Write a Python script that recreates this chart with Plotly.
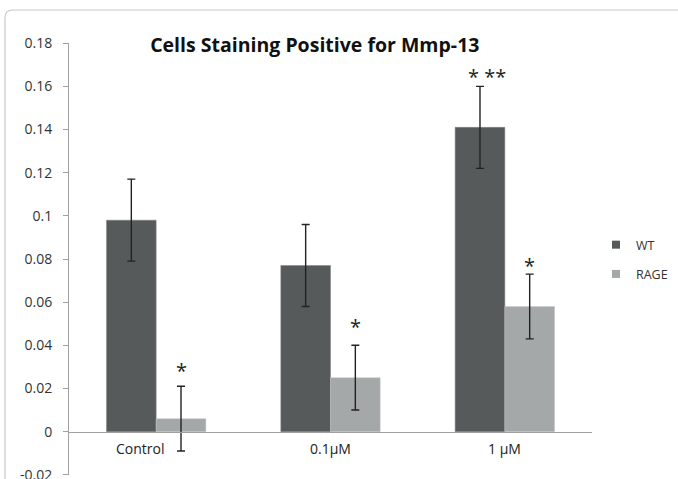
import plotly.graph_objects as go

categories = ["Control", "0.1μM", "1 μM"]
wt_values = [0.098, 0.077, 0.141]
wt_errors = [0.019, 0.019, 0.019]
rage_values = [0.006, 0.025, 0.058]
rage_errors = [0.015, 0.015, 0.015]

sig_labels = ["*", "*", "* **", "*"]
sig_x = ["Control", "0.1μM", "1 μM", "1 μM"]
sig_series = ["RAGE", "RAGE", "WT", "RAGE"]
sig_y = [0.0282, 0.0486, 0.1648, 0.0769]

y_tickvals = [0.18, 0.16, 0.14, 0.12, 0.1, 0.08, 0.06, 0.04, 0.02, 0, -0.02]
y_ticktext = ["0.18", "0.16", "0.14", "0.12", "0.1", "0.08", "0.06", "0.04", "0.02", "0", "-0.02"]

FONT = "Open Sans"
WT_COLOR = "#575a5b"
RAGE_COLOR = "#a5a8a8"

fig = go.Figure()
fig.add_trace(go.Bar(
    name="WT", x=categories, y=wt_values, offsetgroup="WT", showlegend=False,
    marker=dict(color=WT_COLOR, line=dict(color="#808383", width=0.5)),
    error_y=dict(type="data", array=wt_errors, color="#222222", thickness=1.4, width=4),
))
fig.add_trace(go.Bar(
    name="RAGE", x=categories, y=rage_values, offsetgroup="RAGE", showlegend=False,
    marker=dict(color=RAGE_COLOR, line=dict(color="#c4c6c6", width=0.5)),
    error_y=dict(type="data", array=rage_errors, color="#222222", thickness=1.4, width=4),
))
# legend entries (small square keys like the original)
for nm, col, grp in [("WT", WT_COLOR, "a"), ("RAGE", RAGE_COLOR, "b")]:
    fig.add_trace(go.Scatter(
        name=nm, x=[None], y=[None], mode="markers", legendgroup=grp,
        marker=dict(symbol="square", size=8, color=col),
    ))

for lab, xc, ser, yv in zip(sig_labels, sig_x, sig_series, sig_y):
    fig.add_annotation(
        x=xc, y=yv, text=lab, showarrow=False,
        xshift=-18 if ser == "WT" else 25,
        font=dict(family=FONT, size=20, color="#222222"),
    )

# category labels under the zero line
for i, c in enumerate(categories):
    fig.add_annotation(
        x=c, y=0, text=c, showarrow=False, yanchor="top", yshift=-5,
        xshift=-16 if i == 0 else 0,
        font=dict(family=FONT, size=14, color="#222222"),
    )

# rounded outer frame
fig.add_shape(
    type="path", xref="paper", yref="paper",
    path="M -0.1224,-0.05 L -0.1224,1.058 Q -0.1224,1.0764 -0.107,1.0764 L 1.25,1.0764",
    line=dict(color="#c8c8c8", width=1.2), layer="below",
)

fig.update_layout(
    width=678, height=479,
    margin=dict(l=69, r=86, t=43, b=4, autoexpand=False),
    paper_bgcolor="white", plot_bgcolor="white",
    title=dict(text="<b>Cells Staining Positive for Mmp-13</b>", x=0.470, xanchor="center",
               xref="paper", y=0.906, yanchor="middle",
               font=dict(family=FONT, size=19.5, color="#111111")),
    barmode="group", bargap=0.43, bargroupgap=0,
    font=dict(family=FONT, size=12, color="#333333"),
    showlegend=True,
    legend=dict(x=1.0076, y=0.567, xanchor="left", yanchor="top",
                font=dict(family=FONT, size=12.5, color="#333333"),
                tracegroupgap=10, traceorder="grouped", itemwidth=30),
    xaxis=dict(
        anchor="free", position=0.1, showline=True, linecolor="#a0a0a0", linewidth=1.2,
        ticks="", showticklabels=False, showgrid=False,
    ),
    yaxis=dict(
        range=[-0.0201, 0.1801], tickvals=y_tickvals, ticktext=y_ticktext,
        showline=True, linecolor="#a0a0a0", linewidth=1,
        ticks="outside", ticklen=5, tickcolor="#a0a0a0", ticklabelstandoff=8,
        ticklabeloverflow="allow",
        showgrid=False, zeroline=False,
        tickfont=dict(family=FONT, size=14, color="#333333"),
    ),
)

fig.write_html("out.html", config={"displayModeBar": False},
               post_script="document.body.style.margin='0px';")
